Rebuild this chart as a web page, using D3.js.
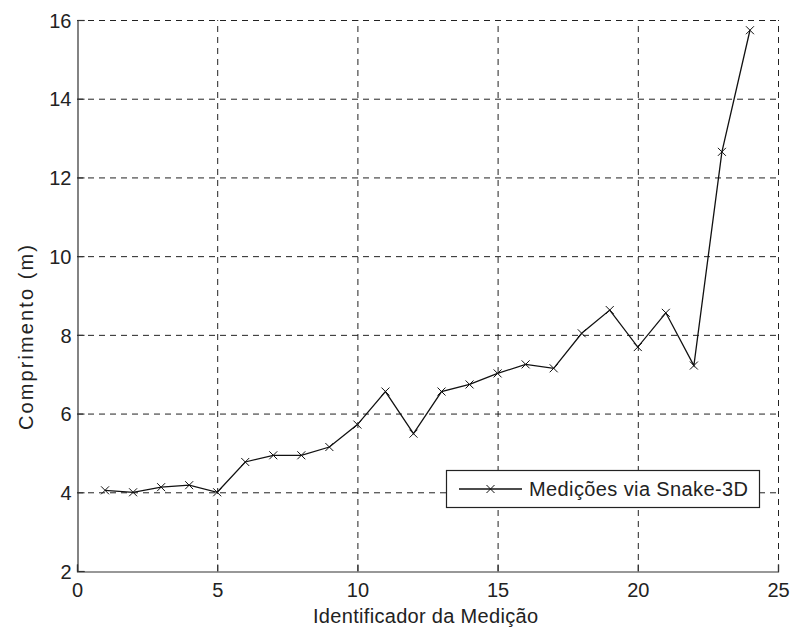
<!DOCTYPE html>
<html>
<head>
<meta charset="utf-8">
<script src="https://cdn.jsdelivr.net/npm/d3@7"></script>
<style>
  html, body { margin: 0; padding: 0; background: #fff; }
  svg text { font-family: "Liberation Sans", Arial, sans-serif; fill: #222; }
</style>
</head>
<body>
<svg id="chart" width="791" height="631"></svg>
<script>
// Measurement identifiers and measured lengths (m)
const ids = [1, 2, 3, 4, 5, 6, 7, 8, 9, 10, 11, 12, 13, 14, 15, 16, 17, 18, 19, 20, 21, 22, 23, 24];
const lengths = [4.05, 4.00, 4.13, 4.18, 4.00, 4.77, 4.94, 4.94, 5.15, 5.72, 6.56, 5.49,
                 6.56, 6.74, 7.02, 7.25, 7.15, 8.04, 8.63, 7.69, 8.56, 7.22, 12.65, 15.74];
const xTicks = [0, 5, 10, 15, 20, 25];
const yTicks = [2, 4, 6, 8, 10, 12, 14, 16];
const seriesName = "Medições via Snake-3D";
const xTitle = "Identificador da Medição";
const yTitle = "Comprimento (m)";

const svg = d3.select("#chart");
const plotLeft = 77, plotRight = 778, plotTop = 20, plotBottom = 571;

const x = d3.scaleLinear().domain([0, 25]).range([plotLeft, plotRight]);
const y = d3.scaleLinear().domain([2, 16]).range([plotBottom, plotTop]);

const ink = "#222";
const fontSize = 20;

// dashed grid
const grid = svg.append("g").attr("stroke", ink).attr("stroke-width", 1)
  .attr("stroke-dasharray", "6,5").attr("fill", "none");
grid.selectAll("line.h").data(yTicks.filter(d => d > 2)).join("line")
  .attr("class", "h")
  .attr("x1", plotLeft).attr("x2", plotRight)
  .attr("y1", d => y(d) + 0.5).attr("y2", d => y(d) + 0.5);
grid.selectAll("line.v").data(xTicks.filter(d => d > 0)).join("line")
  .attr("class", "v")
  .attr("y1", plotBottom).attr("y2", plotTop)
  .attr("x1", d => x(d) + 0.5).attr("x2", d => x(d) + 0.5);

// axes
const xAxis = svg.append("g").attr("transform", `translate(0,${plotBottom + 0.5})`)
  .call(d3.axisBottom(x).tickValues(xTicks).tickSize(-7).tickPadding(11).tickFormat(d3.format("d")));
const yAxis = svg.append("g").attr("transform", `translate(${plotLeft + 0.5},0)`)
  .call(d3.axisLeft(y).tickValues(yTicks).tickSize(-7).tickPadding(6).tickFormat(d3.format("d")));
[xAxis, yAxis].forEach(a => {
  a.select(".domain").attr("stroke", "#333").attr("stroke-width", 1.2);
  a.selectAll(".tick line").attr("stroke", "#333").attr("stroke-width", 1.2);
  a.selectAll(".tick text").attr("fill", ink).attr("font-size", fontSize)
    .style("font-family", "'Liberation Sans', Arial, sans-serif");
});
yAxis.selectAll(".tick text").attr("dy", "0.36em");

// data line with x markers
const line = d3.line().x((d, i) => x(ids[i])).y(d => y(d));
svg.append("path").datum(lengths)
  .attr("d", line).attr("fill", "none").attr("stroke", "#111").attr("stroke-width", 1.3);

const m = 4;
function cross(g, cx, cy) {
  g.append("path")
    .attr("d", `M${cx - m},${cy - m}L${cx + m},${cy + m}M${cx - m},${cy + m}L${cx + m},${cy - m}`)
    .attr("stroke", "#111").attr("stroke-width", 1).attr("fill", "none");
}
const marks = svg.append("g");
lengths.forEach((v, i) => cross(marks, x(ids[i]), y(v)));

// axis titles
svg.append("text")
  .attr("x", 313).attr("y", 623)
  .attr("font-size", fontSize)
  .attr("textLength", 225).attr("lengthAdjust", "spacing")
  .text(xTitle);
svg.append("text")
  .attr("transform", "translate(33,430) rotate(-90)")
  .attr("font-size", fontSize)
  .attr("textLength", 185).attr("lengthAdjust", "spacing")
  .text(yTitle);

// legend
const lg = svg.append("g");
lg.append("rect").attr("x", 446.5).attr("y", 470.5).attr("width", 313).attr("height", 37)
  .attr("fill", "#fff").attr("stroke", "#222").attr("stroke-width", 1.2);
lg.append("line").attr("x1", 459).attr("x2", 522).attr("y1", 489).attr("y2", 489)
  .attr("stroke", "#111").attr("stroke-width", 1.3);
cross(lg, 490.5, 489);
lg.append("text").attr("x", 529).attr("y", 496).attr("font-size", fontSize)
  .attr("textLength", 219).attr("lengthAdjust", "spacing")
  .text(seriesName);
</script>
</body>
</html>
